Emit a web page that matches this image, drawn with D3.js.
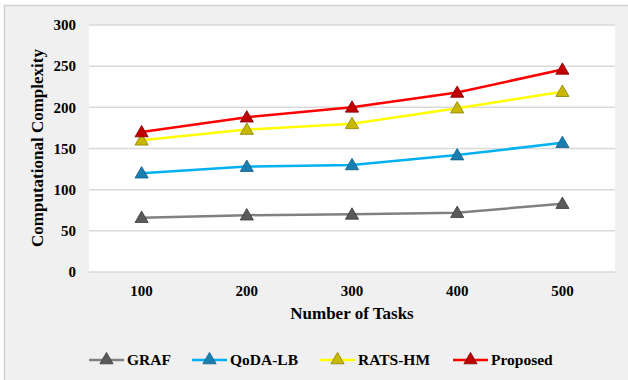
<!DOCTYPE html>
<html><head><meta charset="utf-8">
<script src="https://cdn.jsdelivr.net/npm/d3@7"></script>
<style>body{margin:0;background:#fff}svg{display:block}text{font-family:"Liberation Serif","Times New Roman",serif;font-weight:bold;fill:#000}</style>
</head><body>
<svg id="c" width="628" height="380"></svg>
<script>
const categories = ["100","200","300","400","500"];
const seriesNames = ["GRAF","QoDA-LB","RATS-HM","Proposed"];
const GRAF = [66,69,70,72,83];
const QoDA = [120,128,130,142,157];
const RATS = [160,173,180,199,219];
const Proposed = [170,188,200,218,246];
const yTicks = [0,50,100,150,200,250,300];

const series = [
  {name:seriesNames[0], values:GRAF, line:"#808080", fill:"#5a5a5a", dark:"#3a3a3a"},
  {name:seriesNames[1], values:QoDA, line:"#00b0f0", fill:"#1a7fb0", dark:"#0e5c85"},
  {name:seriesNames[2], values:RATS, line:"#ffff00", fill:"#c8b800", dark:"#8a7f00"},
  {name:seriesNames[3], values:Proposed, line:"#ff0000", fill:"#c00000", dark:"#800000"}
];

const svg = d3.select("#c");
svg.append("rect").attr("x",4.5).attr("y",5.5).attr("width",640).attr("height",400)
  .attr("fill","#f0f0f0").attr("stroke","#d0d0d0").attr("stroke-width",1.5);

const L=89, R=615, T=25, B=272;
svg.append("rect").attr("x",L).attr("y",T).attr("width",R-L).attr("height",B-T).attr("fill","#fff");

const x = d3.scaleBand().domain(categories).range([L,R]);
const y = d3.scaleLinear().domain([0,300]).range([B,T]);

// gridlines
svg.append("g").selectAll("line").data(yTicks).join("line")
  .attr("x1",L).attr("x2",R).attr("y1",d=>y(d)).attr("y2",d=>y(d))
  .attr("stroke","#d9d9d9").attr("stroke-width",1.5);

// y axis labels
const yAxis = d3.axisLeft(y).tickValues(yTicks).tickSize(0).tickPadding(13);
const gy = svg.append("g").attr("transform",`translate(${L},0)`).call(yAxis);
gy.select(".domain").remove();
gy.attr("font-family",null).attr("font-size",null);
gy.selectAll("text").style("font-size","15px");

// x axis labels
const xAxis = d3.axisBottom(x).tickSize(0).tickPadding(13);
const gx = svg.append("g").attr("transform",`translate(0,${B})`).call(xAxis);
gx.select(".domain").remove();
gx.attr("font-family",null).attr("font-size",null);
gx.selectAll("text").style("font-size","15px");

// titles
svg.append("text").attr("x",352).attr("y",319).attr("text-anchor","middle")
  .style("font-size","17px").text("Number of Tasks");
svg.append("text").attr("transform","translate(43,148) rotate(-90)").attr("text-anchor","middle")
  .style("font-size","17px").text("Computational Complexity");

const tri = d3.symbol().type(d3.symbolTriangle).size(75);

function marker(g, cx, cy, s){
  g.append("path").attr("d",tri()).attr("transform",`translate(${cx},${cy+1})`)
    .attr("fill",s.fill).attr("stroke",s.dark).attr("stroke-width",0.8);
}

const line = d3.line().x((d,i)=>x(categories[i])+x.bandwidth()/2).y(d=>y(d));
series.forEach(s=>{
  const g = svg.append("g");
  g.append("path").attr("d",line(s.values)).attr("fill","none").attr("stroke",s.line).attr("stroke-width",2.5);
  s.values.forEach((v,i)=>marker(g, x(categories[i])+x.bandwidth()/2, y(v), s));
});

// legend
const legX = [89,192,320,453];
series.forEach((s,i)=>{
  const g = svg.append("g");
  const lx = legX[i], ly = 360;
  g.append("line").attr("x1",lx).attr("x2",lx+35).attr("y1",ly).attr("y2",ly).attr("stroke",s.line).attr("stroke-width",2.5);
  marker(g, lx+17.5, ly-1, s);
  g.append("text").attr("x",lx+38).attr("y",ly+5).style("font-size","15.5px").text(s.name);
});
</script>
</body></html>
